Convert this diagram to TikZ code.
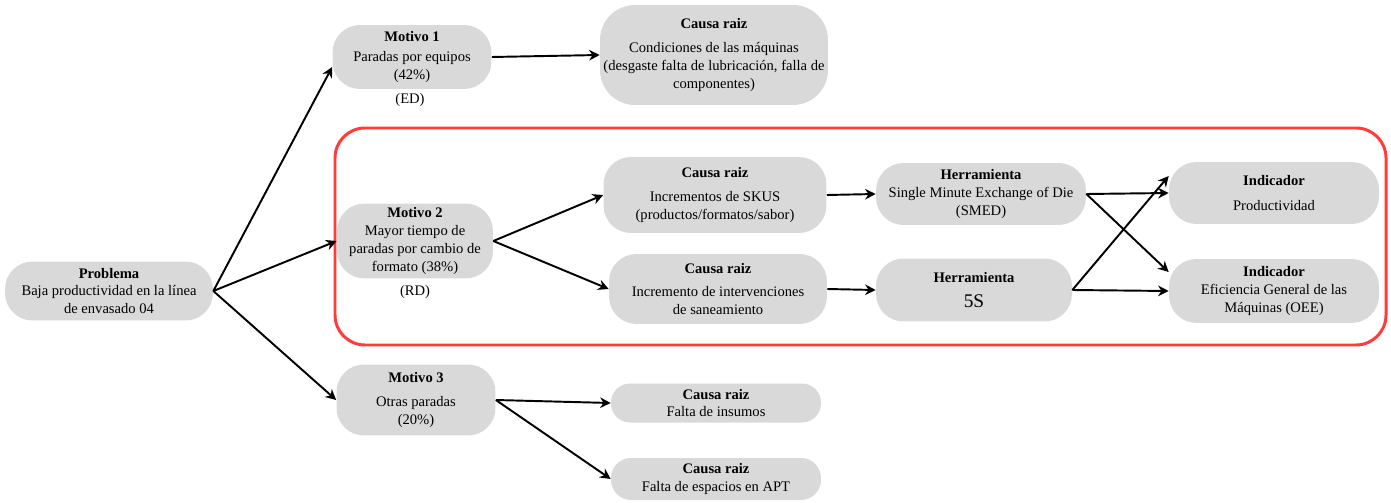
\documentclass[tikz,border=0pt]{standalone}
\usepackage{fontspec}
\setmainfont{Liberation Serif}
\usetikzlibrary{arrows.meta}
\definecolor{boxgray}{HTML}{D9D9D9}
\definecolor{framered}{HTML}{FF3B3B}

\begin{document}
\begin{tikzpicture}[x=0.02cm,y=-0.02cm,
        box/.style={fill=boxgray,rounded corners=0.55cm,align=center,inner sep=0pt,
          font=\fontsize{8.3}{10.2}\selectfont},
        note/.style={font=\fontsize{8.3}{10.2}\selectfont},
        flecha/.style={-{Stealth[length=6pt,width=6pt]},line width=1.1pt}]
        \useasboundingbox (0,0) rectangle (1391,503);
        % frame round motivo 2
        \draw[framered,line width=1.7pt,rounded corners=0.6cm] (335,128) rectangle (1386,345);
        % problem and motives
        \node[box,minimum width=4.16cm,minimum height=1.18cm] (problema) at (109,291)
          {\textbf{Problema}\\Baja productividad en la línea\\de envasado 04};
        \node[box,minimum width=3.18cm,minimum height=1.28cm] (motivo1) at (412,57)
          {\textbf{Motivo 1}\\[1pt]Paradas por equipos\\(42\%)};
        \node[note] (ed) at (410,100) {(ED)};
        \node[box,minimum width=3.12cm,minimum height=1.5cm] (motivo2) at (415,241)
          {\textbf{Motivo 2}\\Mayor tiempo de\\paradas por cambio de\\formato (38\%)};
        \node[note] (rd) at (415,292) {(RD)};
        \node[box,minimum width=3.18cm,minimum height=1.42cm] (motivo3) at (416,400)
          {\textbf{Motivo 3}\\[3pt]Otras paradas\\(20\%)};
        % root causes
        \node[box,minimum width=4.56cm,minimum height=2.0cm,rounded corners=0.7cm] (causa1) at (714,55)
          {\textbf{Causa raiz}\\[3pt]Condiciones de las máquinas\\(desgaste falta de lubricación, falla de\\componentes)};
        \node[box,minimum width=4.46cm,minimum height=1.52cm] (causa2) at (715,195)
          {\textbf{Causa raiz}\\[3pt]Incrementos de SKUS\\(productos/formatos/sabor)};
        \node[box,minimum width=4.36cm,minimum height=1.4cm] (causa3) at (718,289)
          {\textbf{Causa raiz}\\[3pt]Incremento de intervenciones\\de saneamiento};
        \node[box,minimum width=4.2cm,minimum height=0.78cm,rounded corners=0.38cm] (causa4) at (716,403)
          {\textbf{Causa raiz}\\Falta de insumos};
        \node[box,minimum width=4.2cm,minimum height=0.84cm,rounded corners=0.4cm] (causa5) at (716,479)
          {\textbf{Causa raiz}\\Falta de espacios en APT};
        % tools
        \node[box,minimum width=4.2cm,minimum height=1.24cm] (smed) at (981,194)
          {\textbf{Herramienta}\\Single Minute Exchange of Die\\(SMED)};
        \node[box,minimum width=3.92cm,minimum height=1.26cm] (cincos) at (974,290)
          {\textbf{Herramienta}\\[4pt]{\fontsize{11}{13}\selectfont 5S}};
        % indicators
        \node[box,minimum width=4.2cm,minimum height=1.24cm] (prod) at (1274,193)
          {\textbf{Indicador}\\[4pt]Productividad};
        \node[box,minimum width=4.2cm,minimum height=1.28cm] (oee) at (1274,291)
          {\textbf{Indicador}\\Eficiencia General de las\\Máquinas (OEE)};
        % arrows
        \draw[flecha] (problema.east) -- ([yshift=-0.2cm]motivo1.west);
        \draw[flecha] (problema.east) -- (motivo2.west);
        \draw[flecha] (problema.east) -- (motivo3.west);
        \draw[flecha] (motivo1.east) -- (causa1.west);
        \draw[flecha] (motivo2.east) -- (causa2.west);
        \draw[flecha] (motivo2.east) -- (causa3.west);
        \draw[flecha] (motivo3.east) -- (causa4.west);
        \draw[flecha] (motivo3.east) -- (causa5.west);
        \draw[flecha] (causa2.east) -- (smed.west);
        \draw[flecha] (causa3.east) -- (cincos.west);
        \draw[flecha] (smed.east) -- (prod.west);
        \draw[flecha] (smed.east) -- ([yshift=0.38cm]oee.west);
        \draw[flecha] (cincos.east) -- ([yshift=0.34cm]prod.west);
        \draw[flecha] (cincos.east) -- (oee.west);
\end{tikzpicture}
\end{document}
